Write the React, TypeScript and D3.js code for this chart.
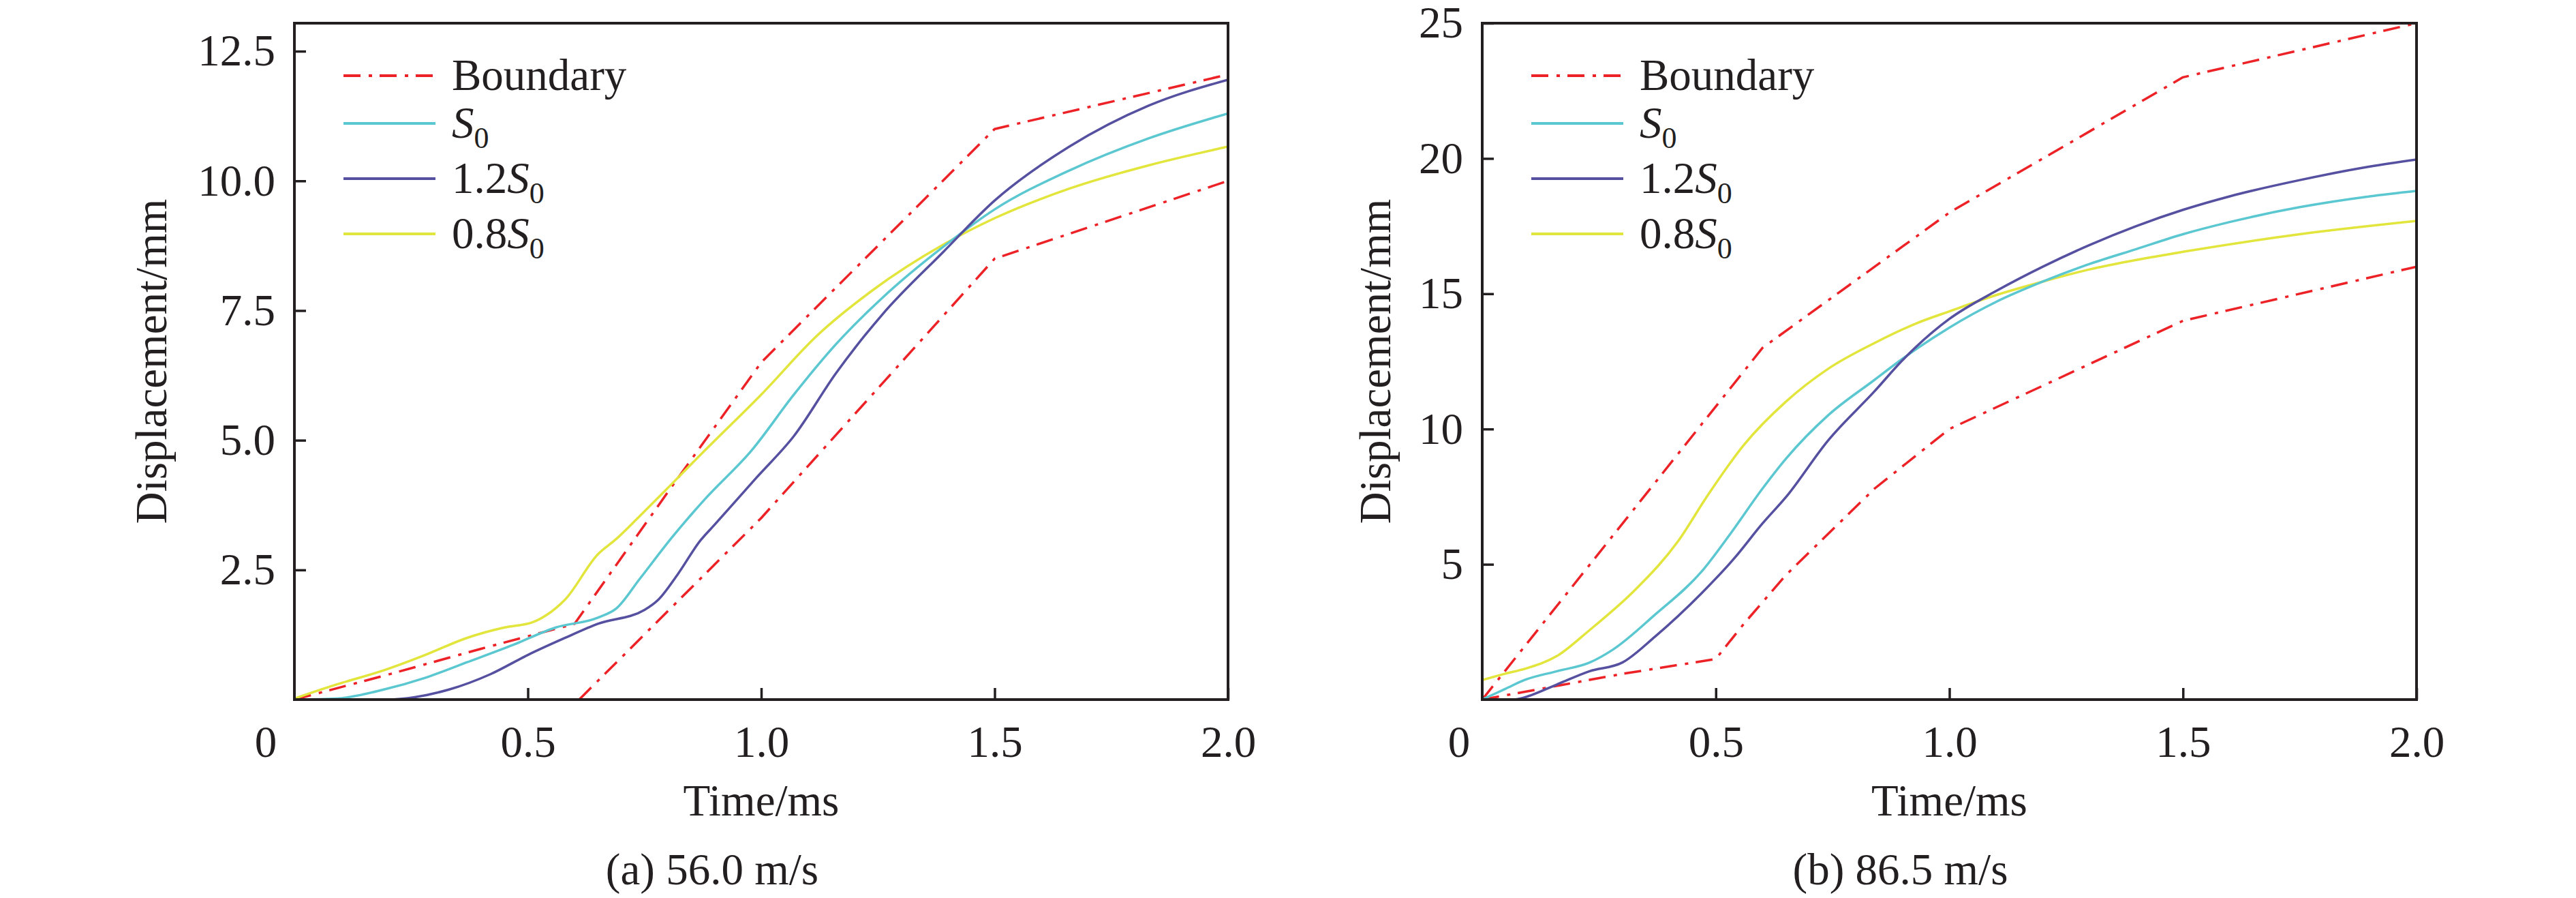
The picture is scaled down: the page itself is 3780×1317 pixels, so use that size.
import { useEffect, useRef } from 'react'
import * as d3 from 'd3'

type Pt = [number, number]

// ---- panel (a) 56.0 m/s ----
const boundaryUpperA: Pt[] = [[0, 0], [0.2, 0.48], [0.4, 0.98], [0.6, 1.46], [0.8, 4.0], [1.0, 6.5], [1.5, 11.0], [2.0, 12.05]]
const boundaryLowerA: Pt[] = [[0.61, 0], [1.0, 3.5], [1.5, 8.5], [2.0, 10.0]]
const s0A: Pt[] = [
  [0, 0], [0.09, 0.02], [0.19, 0.19], [0.28, 0.42], [0.37, 0.72], [0.47, 1.06], [0.56, 1.39], [0.65, 1.58],
  [0.69, 1.76], [0.74, 2.33], [0.81, 3.14], [0.88, 3.87], [0.98, 4.81], [1.07, 5.88], [1.16, 6.85],
  [1.26, 7.75], [1.39, 8.73], [1.5, 9.45], [1.66, 10.2], [1.83, 10.82], [2.0, 11.3]
]
const s12A: Pt[] = [
  [0, 0], [0.2, 0], [0.26, 0.05], [0.33, 0.19], [0.42, 0.49], [0.5, 0.86], [0.58, 1.19], [0.65, 1.46],
  [0.75, 1.73], [0.78, 1.93], [0.82, 2.4], [0.87, 3.07], [0.9, 3.37], [0.99, 4.28], [1.07, 5.08],
  [1.16, 6.29], [1.26, 7.43], [1.39, 8.63], [1.5, 9.62], [1.66, 10.66], [1.83, 11.45], [2.0, 11.95]
]
const s08A: Pt[] = [
  [0, 0.02], [0.09, 0.29], [0.19, 0.56], [0.28, 0.86], [0.37, 1.19], [0.45, 1.39], [0.51, 1.49], [0.54, 1.63],
  [0.58, 1.93], [0.65, 2.8], [0.69, 3.1], [0.74, 3.54], [0.8, 4.08], [0.88, 4.81], [1.0, 5.88], [1.12, 7.02],
  [1.24, 7.9], [1.39, 8.77], [1.5, 9.28], [1.66, 9.85], [1.83, 10.3], [2.0, 10.66]
]
const yTicksA = [2.5, 5, 7.5, 10, 12.5]

// ---- panel (b) 86.5 m/s ----
const boundaryUpperB: Pt[] = [[0, 0], [0.6, 13], [1.0, 18], [1.5, 23], [2.0, 25]]
const boundaryLowerB: Pt[] = [[0, 0], [0.3, 0.95], [0.5, 1.5], [0.56, 2.8], [0.65, 4.6], [0.84, 7.8], [1.0, 10], [1.5, 14], [2.0, 16]]
const s0B: Pt[] = [
  [0, 0], [0.05, 0.4], [0.09, 0.72], [0.16, 1.05], [0.23, 1.37], [0.28, 1.85], [0.37, 3.14], [0.47, 4.74],
  [0.53, 6.1], [0.6, 7.8], [0.65, 8.9], [0.74, 10.5], [0.84, 11.82], [0.9, 12.6], [1.0, 13.75],
  [1.1, 14.7], [1.2, 15.45], [1.3, 16.1], [1.4, 16.65], [1.5, 17.2], [1.6, 17.65], [1.75, 18.2], [1.9, 18.6], [2.0, 18.8]
]
const s12B: Pt[] = [
  [0.07, 0], [0.09, 0.08], [0.16, 0.56], [0.23, 1.05], [0.3, 1.37], [0.37, 2.33], [0.47, 3.94], [0.54, 5.23],
  [0.6, 6.51], [0.65, 7.48], [0.74, 9.57], [0.84, 11.4], [0.9, 12.55], [1.0, 14.07], [1.1, 15.1],
  [1.2, 16.0], [1.3, 16.8], [1.4, 17.5], [1.5, 18.1], [1.6, 18.6], [1.75, 19.2], [1.9, 19.7], [2.0, 19.96]
]
const s08B: Pt[] = [
  [0, 0.72], [0.05, 0.96], [0.09, 1.13], [0.16, 1.61], [0.23, 2.57], [0.33, 4.1], [0.42, 5.87], [0.48, 7.48],
  [0.56, 9.41], [0.65, 11.01], [0.74, 12.22], [0.84, 13.18], [0.93, 13.91], [1.0, 14.35], [1.1, 14.95],
  [1.2, 15.45], [1.3, 15.9], [1.4, 16.25], [1.5, 16.55], [1.75, 17.2], [2.0, 17.69]
]
const yTicksB = [5, 10, 15, 20, 25]

const xTicks = [0.5, 1.0, 1.5, 2.0]
const legendLabels = [
  { pre: 'Boundary', sub: false },
  { pre: '', sub: true },
  { pre: '1.2', sub: true },
  { pre: '0.8', sub: true }
]

const RED = '#ec2227'
const CYAN = '#5bc7d1'
const PURPLE = '#5650a0'
const YELLOW = '#e2e53c'
const INK = '#231f20'
const FONT = '"Liberation Serif", "Times New Roman", serif'
const DASH = '25 12 5 11'

interface PanelProps {
  id: string
  left: number
  right: number
  top: number
  bottom: number
  yMax: number
  yTicks: number[]
  yFormat: (d: number) => string
  upper: Pt[]
  lower: Pt[]
  s0: Pt[]
  s12: Pt[]
  s08: Pt[]
  yLabelX: number
  zeroDx: number
  caption: string
}

function Panel(p: PanelProps) {
  const ref = useRef<SVGGElement>(null)

  useEffect(() => {
    if (!ref.current) return
    const g = d3.select(ref.current)
    g.selectAll('*').remove()

    const x = d3.scaleLinear().domain([0, 2]).range([p.left, p.right])
    const y = d3.scaleLinear().domain([0, p.yMax]).range([p.bottom, p.top])

    g.append('clipPath').attr('id', `clip-${p.id}`)
      .append('rect')
      .attr('x', p.left).attr('y', p.top)
      .attr('width', p.right - p.left).attr('height', p.bottom - p.top)

    const plot = g.append('g').attr('clip-path', `url(#clip-${p.id})`)
    const straight = d3.line<Pt>().x(d => x(d[0])).y(d => y(d[1]))
    const smooth = d3.line<Pt>().x(d => x(d[0])).y(d => y(d[1])).curve(d3.curveMonotoneX)

    const series: { data: Pt[]; color: string; dash?: string; gen: d3.Line<Pt> }[] = [
      { data: p.upper, color: RED, dash: DASH, gen: straight },
      { data: p.lower, color: RED, dash: DASH, gen: straight },
      { data: p.s08, color: YELLOW, gen: smooth },
      { data: p.s0, color: CYAN, gen: smooth },
      { data: p.s12, color: PURPLE, gen: smooth }
    ]
    series.forEach(s => {
      plot.append('path')
        .attr('d', s.gen(s.data))
        .attr('fill', 'none')
        .attr('stroke', s.color)
        .attr('stroke-width', 3.5)
        .attr('stroke-dasharray', s.dash ?? null)
        .attr('stroke-linejoin', 'round')
    })

    // axes, ticks pointing inward
    const yAxis = g.append('g')
      .attr('transform', `translate(${p.left},0)`)
      .call(d3.axisLeft(y).tickValues(p.yTicks).tickSize(-17).tickPadding(28).tickFormat(d => p.yFormat(d as number)))
    const xAxis = g.append('g')
      .attr('transform', `translate(0,${p.bottom})`)
      .call(d3.axisBottom(x).tickValues(xTicks).tickSize(-17).tickPadding(38).tickFormat(d3.format('.1f')))
    ;[yAxis, xAxis].forEach(a => {
      a.select('.domain').remove()
      a.selectAll('line').attr('stroke', INK).attr('stroke-width', 3.5)
      a.selectAll('text').attr('fill', INK).style('font-family', FONT).style('font-size', '65px')
    })

    g.append('rect')
      .attr('x', p.left).attr('y', p.top)
      .attr('width', p.right - p.left).attr('height', p.bottom - p.top)
      .attr('fill', 'none').attr('stroke', INK).attr('stroke-width', 4)

    const txt = (sel: d3.Selection<SVGTextElement, unknown, null, undefined>) =>
      sel.attr('fill', INK).style('font-family', FONT).style('font-size', '65px')

    // shared origin label
    g.append('text').call(txt)
      .attr('x', p.left + p.zeroDx).attr('y', p.bottom + 84)
      .attr('text-anchor', 'middle').text('0')

    g.append('text').call(txt)
      .attr('x', (p.left + p.right) / 2).attr('y', 1196)
      .attr('text-anchor', 'middle').text('Time/ms')

    g.append('text').call(txt)
      .attr('transform', `translate(${p.yLabelX},${(p.top + p.bottom) / 2}) rotate(-90)`)
      .attr('text-anchor', 'middle').text('Displacement/mm')

    g.append('text').call(txt)
      .attr('x', (p.left + p.right) / 2 - 72).attr('y', 1297)
      .attr('text-anchor', 'middle').text(p.caption)

    // legend
    const legendRows = [
      { color: RED, dash: DASH },
      { color: CYAN },
      { color: PURPLE },
      { color: YELLOW }
    ]
    const rowY = [111, 181, 262, 343]
    legendRows.forEach((r, i) => {
      g.append('line')
        .attr('x1', p.left + 72).attr('x2', p.left + 207)
        .attr('y1', rowY[i]).attr('y2', rowY[i])
        .attr('stroke', r.color).attr('stroke-width', 4)
        .attr('stroke-dasharray', r.dash ?? null)
      const lab = legendLabels[i]
      const t = g.append('text').call(txt)
        .attr('x', p.left + 231).attr('y', rowY[i] + 21)
      if (lab.pre) t.append('tspan').text(lab.pre)
      if (lab.sub) {
        t.append('tspan').style('font-style', 'italic').text('S')
        t.append('tspan').attr('dy', 15).style('font-size', '44px').text('0')
      }
    })
  }, [p])

  return <g ref={ref} />
}

export default function App() {
  return (
    <svg
      width={3780}
      height={1317}
      viewBox="0 0 3780 1317"
      style={{ position: 'absolute', left: 0, top: 0, background: '#fff' }}
    >
      <rect x={0} y={0} width={3780} height={1317} fill="#fff" />
      <Panel
        id="a"
        left={432}
        right={1802}
        top={34}
        bottom={1026}
        yMax={13.04}
        yTicks={yTicksA}
        yFormat={d3.format('.1f')}
        upper={boundaryUpperA}
        lower={boundaryLowerA}
        s0={s0A}
        s12={s12A}
        s08={s08A}
        yLabelX={244}
        zeroDx={-42}
        caption="(a) 56.0 m/s"
      />
      <Panel
        id="b"
        left={2175}
        right={3546}
        top={34}
        bottom={1026}
        yMax={25}
        yTicks={yTicksB}
        yFormat={d3.format('d')}
        upper={boundaryUpperB}
        lower={boundaryLowerB}
        s0={s0B}
        s12={s12B}
        s08={s08B}
        yLabelX={2040}
        zeroDx={-34}
        caption="(b) 86.5 m/s"
      />
    </svg>
  )
}
